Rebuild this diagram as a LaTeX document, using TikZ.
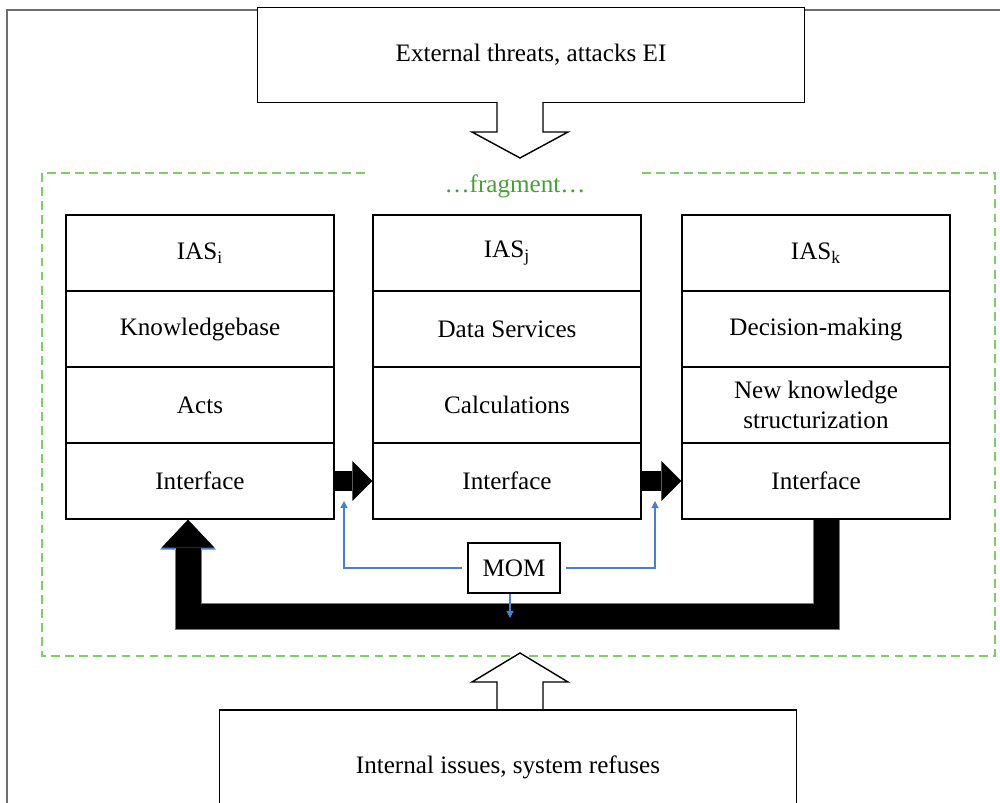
\documentclass[tikz,border=0pt]{standalone}
\usepackage{fontspec}
\setmainfont{Liberation Serif}
\usetikzlibrary{arrows.meta}
\definecolor{momBlue}{RGB}{74,126,212}
\definecolor{fragGreen}{RGB}{125,205,105}
\definecolor{fragText}{RGB}{70,160,50}
\definecolor{frameGray}{RGB}{110,110,110}

\begin{document}
\begin{tikzpicture}[x = 0.02cm, y = -0.02cm, font = \fontsize{14.3}{17}\selectfont]
\tikzstyle{boxStyle} = [draw, fill = white, line width = 0.8pt, align = center, inner sep = 2pt]
\tikzstyle{cellStyle} = [boxStyle, minimum width = 5.36cm, minimum height = 1.52cm]
\tikzstyle{hollowStyle} = [draw, fill = white, line width = 0.8pt, line join = miter]
\tikzstyle{passStyle} = [line width = 0.4cm, -{Triangle[length = 0.4cm, width = 0.8cm, line width = 0pt]}]
\tikzstyle{backStyle} = [line width = 0.5cm, line join = miter, -{Triangle[length = 0.56cm, width = 1.06cm, line width = 0pt]}]
\tikzstyle{backEdge} = [draw = momBlue, line width = 0.54cm, line join = miter, -{Triangle[length = 0.6cm, width = 1.12cm, line width = 0pt]}]
\tikzstyle{momStyle} = [draw = momBlue, line width = 0.7pt, -{Triangle[length = 4pt, width = 4pt]}]
\useasboundingbox (0,0) rectangle (1000,803);
\clip (0,0) rectangle (1000,803);
% outer frame
\draw[frameGray, line width = 1pt] (7,803) -- (7,10) -- (1000,10);
% threats from outside
\node[boxStyle, minimum width = 10.94cm, minimum height = 1.9cm] (ext) at (531,55) {External threats, attacks EI};
\draw[hollowStyle] (497,102) -- (497,132) -- (472,132) -- (520,158) -- (568,132) -- (543,132) -- (543,102);
% fragment frame
\draw[fragGreen, line width = 1pt, dash pattern = on 5pt off 3pt] (365,173) -- (42,173) -- (42,656) -- (995,656) -- (995,173) -- (640,173);
\node[text = fragText] (frag) at (515,186) {…fragment…};
% the three systems
\node[cellStyle] (c1r1) at (200,253) {IAS\textsubscript{i}};
\node[cellStyle] (c1r2) at (200,329) {Knowledgebase};
\node[cellStyle] (c1r3) at (200,405) {Acts};
\node[cellStyle] (c1r4) at (200,481) {Interface};
\node[cellStyle] (c2r1) at (507,253) {IAS\textsubscript{j}};
\node[cellStyle] (c2r2) at (507,329) {Data Services};
\node[cellStyle] (c2r3) at (507,405) {Calculations};
\node[cellStyle] (c2r4) at (507,481) {Interface};
\node[cellStyle] (c3r1) at (816,253) {IAS\textsubscript{k}};
\node[cellStyle] (c3r2) at (816,329) {Decision-making};
\node[cellStyle] (c3r3) at (816,405) {New knowledge\\structurization};
\node[cellStyle] (c3r4) at (816,481) {Interface};
\draw[passStyle] (c1r4.east) -- (c2r4.west);
\draw[passStyle] (c2r4.east) -- (c3r4.west);
% feedback
\coordinate (fbR) at (826,616);
\coordinate (fbL) at (188,616);
\draw[backEdge] (c3r4.south -| fbR) -- (fbR) -- (fbL) -- (c1r4.south -| fbL);
\draw[backStyle] (c3r4.south -| fbR) -- (fbR) -- (fbL) -- (c1r4.south -| fbL);
% MOM
\node[boxStyle, minimum width = 1.84cm, minimum height = 1cm] (mom) at (514,568) {MOM};
\coordinate (momL) at (344,501);
\coordinate (momR) at (655,501);
\coordinate (momD) at (510,618);
\draw[momStyle, shorten <= 3pt] (mom.west) -| (momL);
\draw[momStyle, shorten <= 3pt] (mom.east) -| (momR);
\draw[momStyle] (mom.south -| momD) -- (momD);
% threats from inside
\draw[hollowStyle] (497,710) -- (497,682) -- (472,682) -- (520,653) -- (568,682) -- (543,682) -- (543,710);
\node[boxStyle, minimum width = 11.54cm, minimum height = 2.28cm] (int) at (508,767) {Internal issues, system refuses};
\end{tikzpicture}
\end{document}
